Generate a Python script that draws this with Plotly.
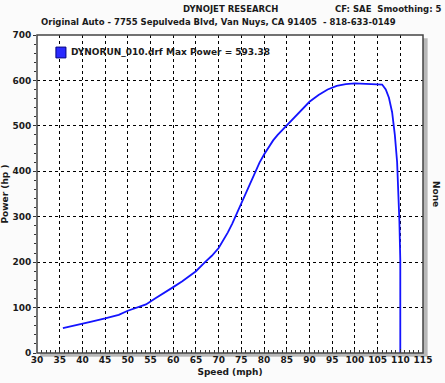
import plotly.graph_objects as go

speed = [35.7, 38, 40, 42, 45, 48, 50, 52, 54, 56, 58, 60, 62, 65, 67, 68.5, 70, 71, 72, 73,
         74, 75, 76, 77, 78, 79, 80, 81, 82, 83, 85, 88, 90, 92, 94, 96, 98, 100, 102, 104,
         106, 106.8, 107.5, 108.2, 108.8, 109.3, 109.6, 109.8, 110.0, 110.0]
power = [55, 60, 63, 69, 76, 84, 93, 100, 107, 120, 132, 145, 158, 180, 200, 214, 231, 247,
         265, 285, 307, 330, 353, 377, 399, 419, 437, 454, 468, 480, 501, 533, 553, 568, 580,
         588, 592, 593.4, 593, 592, 591, 580, 562, 530, 480, 420, 350, 290, 205, 0]

x_ticks = list(range(30, 116, 5))
y_ticks = list(range(0, 701, 100))

title1 = "DYNOJET RESEARCH"
title2 = "Original Auto - 7755 Sepulveda Blvd, Van Nuys, CA 91405  - 818-633-0149"
cf_text = "CF: SAE  Smoothing: 5"
legend_text = "DYNORUN_010.drf Max Power = 593.38"
x_title = "Speed (mph)"
y_title = "Power (hp )"
y2_title = "None"

FONT = "DejaVu Sans"
TXT = "#1a1a1a"

fig = go.Figure()
fig.add_trace(go.Scatter(x=speed, y=power, mode="lines",
                         line=dict(color="#1414ff", width=1.8), showlegend=False,
                         hoverinfo="skip"))

grid = dict(showgrid=True, gridcolor="#000000", griddash="dot", gridwidth=1)

fig.update_layout(
    width=445, height=383,
    margin=dict(l=37, r=22, t=35, b=30, autoexpand=False),
    paper_bgcolor="#fbfbfb",
    plot_bgcolor="#ffffff",
    font=dict(family=FONT, size=8, color=TXT),
    xaxis=dict(range=[30, 115], tickvals=x_ticks, ticks="inside", ticklen=4,
               tickcolor="#333", showline=False, zeroline=False, automargin=False,
               tickfont=dict(family=FONT, size=9, color=TXT, weight="bold"),
               title=dict(text=x_title, font=dict(family=FONT, size=9, weight="bold"),
                          standoff=4),
               minor=dict(dtick=1, ticks="inside", ticklen=3, tickcolor="#333", showgrid=False),
               **grid),
    yaxis=dict(range=[0, 700], tickvals=y_ticks, ticks="outside", ticklen=3,
               tickcolor="#333", showline=False, zeroline=False, automargin=False,
               tickfont=dict(family=FONT, size=9, color=TXT, weight="bold"),
               title=dict(text=y_title, font=dict(family=FONT, size=9, weight="bold"),
                          standoff=4),
               minor=dict(dtick=20, ticks="outside", ticklen=2, tickcolor="#333", showgrid=False),
               **grid),
)

# frame with shadow (paper coords in plot area)
fig.add_shape(type="rect", xref="paper", yref="paper", x0=0.008, y0=-0.012, x1=1.012, y1=0.99,
              line=dict(width=0), fillcolor="#b8b8b8", layer="below")
fig.add_shape(type="rect", xref="paper", yref="paper", x0=0, y0=0, x1=1, y1=1,
              line=dict(color="#444444", width=1.5), fillcolor="rgba(0,0,0,0)", layer="above")
fig.add_shape(type="rect", xref="paper", yref="paper", x0=0, y0=0, x1=1, y1=1,
              line=dict(width=0), fillcolor="#ffffff", layer="below")

# legend square
fig.add_shape(type="rect", xref="paper", yref="paper", x0=0.049, y0=0.928, x1=0.075, y1=0.962,
              line=dict(color="#000080", width=1), fillcolor="#2a2aff")
fig.add_annotation(text=legend_text, xref="paper", yref="paper", x=0.082, y=0.945,
                   xanchor="left", yanchor="middle", showarrow=False,
                   font=dict(family=FONT, size=9, color=TXT, weight="bold"))

# titles
fig.add_annotation(text=title1, xref="paper", yref="paper", x=0.5, y=1.0, yshift=26,
                   xanchor="center", yanchor="middle", showarrow=False,
                   font=dict(family=FONT, size=8.5, color=TXT, weight="bold"))
fig.add_annotation(text=title2, xref="paper", yref="paper", x=0.47, y=1.0, yshift=13,
                   xanchor="center", yanchor="middle", showarrow=False,
                   font=dict(family=FONT, size=8.5, color=TXT, weight="bold"))
fig.add_annotation(text=cf_text, xref="paper", yref="paper", x=1.0, xshift=21, y=1.0, yshift=26,
                   xanchor="right", yanchor="middle", showarrow=False,
                   font=dict(family=FONT, size=8.5, color=TXT, weight="bold"))
fig.add_annotation(text=y2_title, xref="paper", yref="paper", x=1.0, xshift=13, y=0.5,
                   xanchor="center", yanchor="middle", showarrow=False, textangle=90,
                   font=dict(family=FONT, size=9, color=TXT, weight="bold"))

fig.write_html("out.html", config={"displayModeBar": False},
               post_script="document.body.style.margin='0';document.body.style.padding='0';")
